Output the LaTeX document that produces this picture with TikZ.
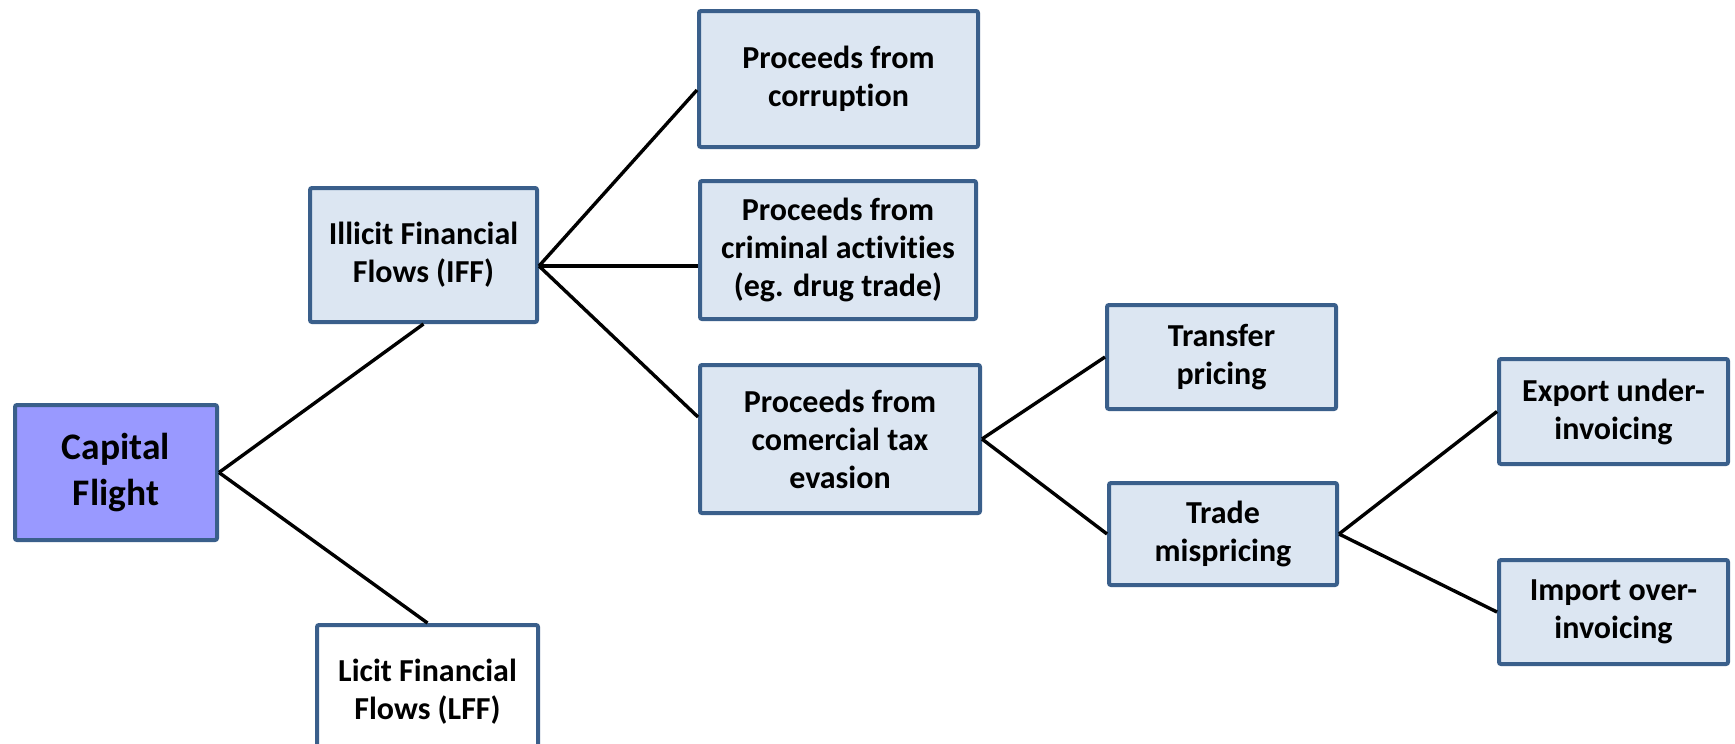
\documentclass[tikz,border=0pt]{standalone}
\usepackage{fontspec}
\setmainfont[Ligatures=NoCommon]{Carlito}
\usetikzlibrary{calc}
\definecolor{boxfill}{HTML}{DCE6F2}
\definecolor{boxline}{HTML}{3A5F8B}
\definecolor{cffill}{HTML}{9999FF}
\tikzset{
  box/.style={draw=boxline, line width=4pt, fill=boxfill, rounded corners=2pt,
    align=center, inner sep=0pt, font=\fontsize{32}{38}\selectfont\bfseries,
    text=black},
  link/.style={draw=black, line width=3.4pt},
}
\begin{document}
\begin{tikzpicture}[x=1pt,y=-1pt]
\useasboundingbox (0,0) rectangle (1735,744);
\clip (0,0) rectangle (1735,744);
\fill[white] (0,0) rectangle (1735,744);

\node[box, fill=cffill, minimum width=202pt, minimum height=135pt,
  font=\fontsize{37.5}{46}\selectfont\bfseries] (cf) at (116,472.5) {Capital\\Flight};
\node[box, minimum width=227pt, minimum height=134pt] (iff) at (423.5,255) {Illicit Financial\\Flows (IFF)};
\node[box, fill=white, minimum width=221pt, minimum height=134pt] (lff) at (427.5,692) {Licit Financial\\Flows (LFF)};
\node[box, minimum width=279pt, minimum height=136pt] (corr) at (838.5,79) {Proceeds from\\corruption};
\node[box, minimum width=276pt, minimum height=138pt] (crim) at (838,250) {Proceeds from\\criminal activities\\(eg. drug trade)};
\node[box, minimum width=280pt, minimum height=148pt] (tax) at (840,439) {Proceeds from\\comercial tax\\evasion};
\node[box, minimum width=229pt, minimum height=104pt] (tp) at (1221.5,357) {Transfer\\pricing};
\node[box, minimum width=228pt, minimum height=102pt] (tm) at (1223,534) {Trade\\mispricing};
\node[box, minimum width=229pt, minimum height=105pt] (exp) at (1613.5,411.5) {Export under-\\invoicing};
\node[box, minimum width=229pt, minimum height=104pt] (imp) at (1613.5,612) {Import over-\\invoicing};

\coordinate (iffout) at ($(iff.east)+(0,11)$);
\coordinate (corrin) at ($(corr.west)+(0,11)$);
\coordinate (taxin) at ($(tax.west)+(0,-22)$);

\draw[link] (cf.east) -- (iff.south);
\draw[link] (cf.east) -- (lff.north);
\draw[link] (iffout) -- (corrin);
\draw[link] (iffout) -- (iffout -| crim.west);
\draw[link] (iffout) -- (taxin);
\draw[link] (tax.east) -- (tp.west);
\draw[link] (tax.east) -- (tm.west);
\draw[link] (tm.east) -- (exp.west);
\draw[link] (tm.east) -- (imp.west);
\end{tikzpicture}
\end{document}
